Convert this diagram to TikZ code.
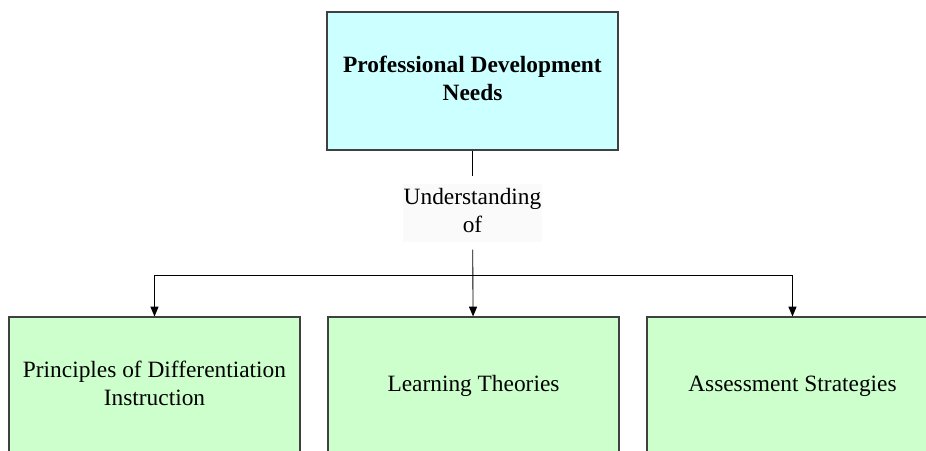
\documentclass[tikz,border=0pt]{standalone}
\usepackage{fontspec}
\setmainfont{Liberation Serif}
\usetikzlibrary{arrows.meta}

\definecolor{needsfill}{HTML}{CCFFFF}
\definecolor{topicfill}{HTML}{CCFFCC}

\tikzset{
    needsbox/.style={draw=black!75, line width=0.6pt, rectangle, fill=needsfill,
        minimum width=5.82cm, minimum height=2.76cm, inner sep=0pt},
    topicbox/.style={draw=black!75, line width=0.6pt, rectangle, fill=topicfill,
        minimum width=5.82cm, minimum height=2.76cm, inner sep=0pt},
    link/.style={draw=black, line width=0.5pt}
}

\begin{document}
\begin{tikzpicture}[>={Triangle[width=4.6pt,length=5.6pt]},
        font=\fontsize{13.3}{16}\selectfont]
        \useasboundingbox (-9.45,1.62) rectangle (9.07,-7.4);
        \clip (-9.45,1.62) rectangle (9.07,-7.4);

        % Main node with tabular for line break
        \node[needsbox] (needs) at (0,0) {
            \begin{tabular}{c}
                \textbf{Professional Development} \\
                \textbf{Needs}
            \end{tabular}
        };

        % Connector label
        \node[fill=black!2, inner sep=0.02cm, outer sep=0.15cm] (understanding) at (0,-2.64) {
            \begin{tabular}{@{}c@{}}
                Understanding \\
                of
            \end{tabular}
        };

        % Topic nodes
        \node[topicbox] (principles) at (-6.36,-6.1) {
            \begin{tabular}{c}
                Principles of Differentiation \\
                Instruction
            \end{tabular}
        };
        \node[topicbox] (theories) at (0.02,-6.1) {Learning Theories};
        \node[topicbox] (strategies) at (6.4,-6.1) {Assessment Strategies};

        % Arrows
        \coordinate (branch) at (0,-3.88);
        \draw[link] (needs) -- (understanding);
        \draw[link, ->] (understanding) -- (theories);
        \draw[link, ->] (branch) -| (principles);
        \draw[link, ->] (branch) -| (strategies);
\end{tikzpicture}
\end{document}
